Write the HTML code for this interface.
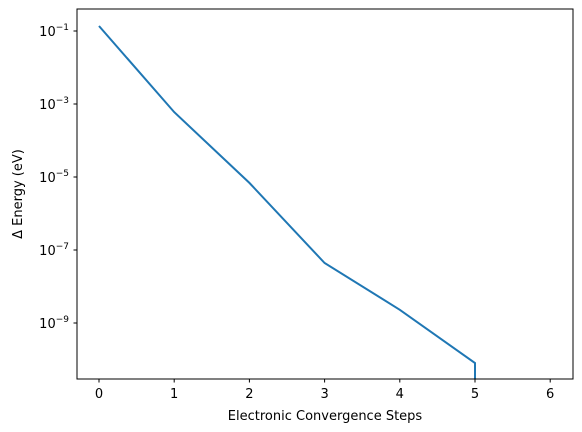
<!DOCTYPE html>
<html><head><meta charset="utf-8"><style>
html,body{margin:0;padding:0;background:#fff;overflow:hidden;width:582px;height:432px;}
svg{display:block;font-family:"DejaVu Sans","Liberation Sans",sans-serif;}
</style></head><body>
<svg id="chart" width="582" height="432" viewBox="0 0 582 432">
<defs><clipPath id="clip"><rect x="77" y="9" width="496" height="370"/></clipPath></defs>
<rect x="0" y="0" width="582" height="432" fill="#fff"/>
<g id="xticks"></g>
<g id="yticks"></g>
<g clip-path="url(#clip)"><path id="line" fill="none" stroke="#1f77b4" stroke-width="2"/></g>
<rect x="77" y="9" width="496" height="370" fill="none" stroke="#000" stroke-width="1"/>
<text x="325" y="420" font-size="13" text-anchor="middle">Electronic Convergence Steps</text>
<text transform="translate(22,194) rotate(-90)" font-size="13" text-anchor="middle">Δ Energy (eV)</text>
</svg>
<script>
const steps = [0, 1, 2, 3, 4, 5, 6];
const energies = [0.137, 6.0e-4, 6.9e-6, 4.4e-8, 2.3e-9, 8.0e-11, 0];
const xTickValues = [0, 1, 2, 3, 4, 5, 6];
const yTickExponents = [-1, -3, -5, -7, -9];

const NS = "http://www.w3.org/2000/svg";
function xScale(v){ return 99 + (v - 0) * 75.2; }
function yScale(v){
  const lg = v > 0 ? Math.log10(v) : -300;
  return 31 + (-1 - lg) * 36.5;
}
const xg = document.getElementById('xticks');
xTickValues.forEach(v => {
  const x = xScale(v);
  const l = document.createElementNS(NS,'line');
  l.setAttribute('x1',x); l.setAttribute('x2',x); l.setAttribute('y1',379); l.setAttribute('y2',382.5);
  l.setAttribute('stroke','#000');
  
  
  xg.appendChild(l);
  const t = document.createElementNS(NS,'text');
  t.setAttribute('x',x); t.setAttribute('y',398); t.setAttribute('font-size','13'); t.setAttribute('text-anchor','middle');
  t.textContent = v;
  
  
  xg.appendChild(t);
});
const yg = document.getElementById('yticks');
yTickExponents.forEach(e => {
  const y = yScale(Math.pow(10,e));
  const l = document.createElementNS(NS,'line');
  l.setAttribute('x1',73.5); l.setAttribute('x2',77); l.setAttribute('y1',y); l.setAttribute('y2',y);
  l.setAttribute('stroke','#000');
  
  
  yg.appendChild(l);
  const t = document.createElementNS(NS,'text');
  t.setAttribute('x',69); t.setAttribute('y',y+5); t.setAttribute('font-size','13'); t.setAttribute('text-anchor','end');
  t.innerHTML = '10<tspan dy="-6" font-size="9">\u2212' + Math.abs(e) + '</tspan>';
  
  
  yg.appendChild(t);
});
let d = '';
steps.forEach((s,i) => {
  const y = Math.min(yScale(energies[i]), 385);
  let x = xScale(s);
  if (yScale(energies[i]) > 385 && i > 0) x = xScale(steps[i-1]);
  d += (i ? 'L' : 'M') + x.toFixed(2) + ',' + y.toFixed(2);
});
document.getElementById('line').setAttribute('d', d);
</script>
</body></html>
